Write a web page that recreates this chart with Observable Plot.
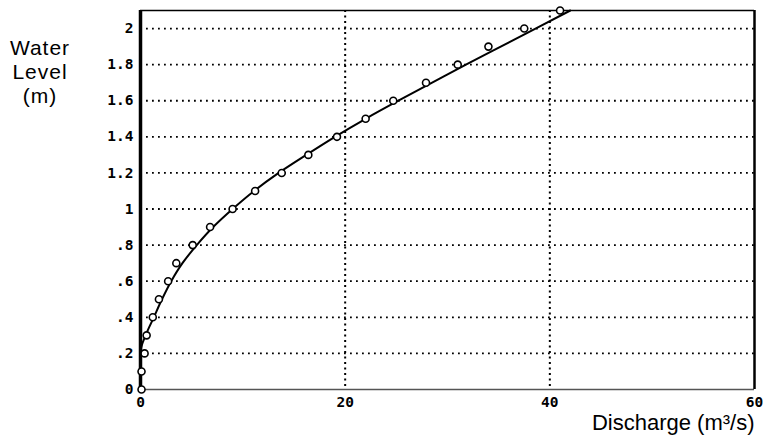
<!DOCTYPE html>
<html><head><meta charset="utf-8">
<script src="https://cdn.jsdelivr.net/npm/d3@7"></script>
<script src="https://cdn.jsdelivr.net/npm/@observablehq/plot@0.6"></script>
<style>
body{margin:0;background:#fff;}
#wrap{position:relative;width:763px;height:443px;overflow:hidden;background:#fff;}
#ylab{position:absolute;left:0;top:36px;width:80px;text-align:center;font:21px "Liberation Sans",Arial,sans-serif;letter-spacing:1px;line-height:24px;color:#000;}
#chart{position:absolute;left:0;top:0;}
</style></head><body>
<div id="wrap"><div id="chart"></div><div id="ylab">Water<br>Level<br>(m)</div></div>
<script>
// Measured points: water level (m) and discharge (m³/s)
const levels    = [0, 0.1, 0.2, 0.3, 0.4, 0.5, 0.6, 0.7, 0.8, 0.9, 1.0, 1.1, 1.2, 1.3, 1.4, 1.5, 1.6, 1.7, 1.8, 1.9, 2.0, 2.1];
const discharge = [0.1, 0.1, 0.4, 0.6, 1.2, 1.8, 2.7, 3.5, 5.1, 6.8, 9.0, 11.2, 13.8, 16.4, 19.2, 22.0, 24.7, 27.9, 31.0, 34.0, 37.5, 41.0];
// Fitted rating curve
const curveH = [0, 0.22, 0.3, 0.4, 0.5, 0.6, 0.7, 0.8, 0.9, 1.0, 1.1, 1.2, 1.3, 1.4, 1.5, 1.6, 1.7, 1.8, 1.9, 2.0, 2.1];
const curveQ = [0, 0.05, 0.5, 1.3, 2.1, 3.0, 4.1, 5.5, 7.1, 9.0, 11.1, 13.5, 16.2, 19.0, 22.0, 25.2, 28.5, 31.8, 35.2, 38.6, 42.0];
const xTicks = [0, 20, 40, 60];
const yTicks = [0, 0.2, 0.4, 0.6, 0.8, 1, 1.2, 1.4, 1.6, 1.8, 2];
const xGrid = [20, 40];
const xTitle = "Discharge (m³/s)";

const pts = levels.map((h, i) => ({h, q: discharge[i]}));
const curve = curveH.map((h, i) => ({h, q: curveQ[i]}));
const fmtY = d => d === 0 ? "0" : String(d).replace(/^0\./, ".");

const tickFont = {fontFamily: "DejaVu Sans Mono", fontWeight: "bold", fontSize: 14.5};

const plot = Plot.plot({
  width: 763, height: 443,
  marginLeft: 140, marginRight: 9, marginTop: 10, marginBottom: 54,
  style: {background: "white", color: "black", overflow: "visible"},
  x: {domain: [0, 60], ticks: xTicks, axis: null},
  y: {domain: [0, 2.1], ticks: yTicks, axis: null},
  marks: [
    Plot.ruleY(yTicks.filter(d => d > 0), {stroke: "black", strokeWidth: 1.8, strokeDasharray: "1.8,4.2"}),
    Plot.ruleX(xGrid, {stroke: "black", strokeWidth: 2, strokeDasharray: "2,3.5"}),
    Plot.ruleY([0], {stroke: "#555", strokeWidth: 1.3}),
    Plot.ruleY([2.1], {stroke: "black", strokeWidth: 1.6}),
    Plot.ruleX([60], {stroke: "black", strokeWidth: 2.5}),
    Plot.ruleX([0], {stroke: "black", strokeWidth: 3.5}),
    Plot.line(curve, {x: "q", y: "h", stroke: "black", strokeWidth: 2, curve: "monotone-y"}),
    Plot.dot(pts, {x: "q", y: "h", r: 3.5, stroke: "black", strokeWidth: 1.6, fill: "white"}),
    Plot.text(yTicks, {x: 0, y: d => d, text: fmtY, textAnchor: "end", dx: -7, ...tickFont, letterSpacing: 2}),
    Plot.text(xTicks, {x: d => d, y: 0, text: d => String(d), dy: 13, ...tickFont, letterSpacing: 1}),
    Plot.text([xTitle], {frameAnchor: "bottom-right", text: d => d, dy: 40, dx: 0, fontSize: 22, letterSpacing: 1.4, fontFamily: "Liberation Sans", textAnchor: "end"})
  ]
});
document.getElementById("chart").appendChild(plot);
</script>
</body></html>
